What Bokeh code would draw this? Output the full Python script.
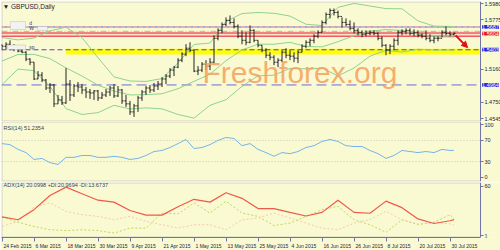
from bokeh.plotting import figure
from bokeh.layouts import column
from bokeh.models import (Range1d, FixedTicker, Label, Arrow, NormalHead, LinearAxis,
                          BoxAnnotation, PrintfTickFormatter)
from bokeh.embed import file_html
from bokeh.resources import INLINE

# ---------------- data ----------------
opens = [1.5460, 1.5447, 1.5472, 1.5410, 1.5434, 1.5385, 1.5372, 1.5286, 1.5248, 1.5038,
         1.5087, 1.5025, 1.4926, 1.4963, 1.4728, 1.4777, 1.4740, 1.4976, 1.4839, 1.4951,
         1.4938, 1.4901, 1.4876, 1.4864, 1.4889, 1.4802, 1.4839, 1.4876, 1.4926, 1.4827,
         1.4901, 1.4765, 1.4728, 1.4628, 1.4703, 1.4802, 1.4876, 1.4926, 1.4901, 1.4951,
         1.4976, 1.5038, 1.5075, 1.5149, 1.5186, 1.5273, 1.5348, 1.5422, 1.5397, 1.5137,
         1.5149, 1.5224, 1.5199, 1.5248, 1.5546, 1.5645, 1.5719, 1.5769, 1.5744, 1.5695,
         1.5571, 1.5521, 1.5496, 1.5645, 1.5521, 1.5459, 1.5397, 1.5335, 1.5310, 1.5248,
         1.5273, 1.5372, 1.5335, 1.5323, 1.5298, 1.5372, 1.5447, 1.5496, 1.5521, 1.5571,
         1.5620, 1.5744, 1.5844, 1.5893, 1.5868, 1.5819, 1.5744, 1.5719, 1.5670, 1.5645,
         1.5620, 1.5596, 1.5608, 1.5620, 1.5608, 1.5546, 1.5459, 1.5397, 1.5447, 1.5521,
         1.5620, 1.5633, 1.5645, 1.5608, 1.5620, 1.5583, 1.5571, 1.5546, 1.5521, 1.5546,
         1.5546, 1.5620, 1.5608, 1.5596]
highs = [1.5472, 1.5496, 1.5521, 1.5472, 1.5447, 1.5434, 1.5385, 1.5298, 1.5248, 1.5137,
         1.5124, 1.5038, 1.4988, 1.4976, 1.4839, 1.4827, 1.5174, 1.5025, 1.4976, 1.5000,
         1.4976, 1.4938, 1.4914, 1.4901, 1.4901, 1.4876, 1.4914, 1.4951, 1.4976, 1.4951,
         1.4914, 1.4839, 1.4765, 1.4728, 1.4827, 1.4901, 1.4951, 1.4963, 1.4988, 1.5013,
         1.5062, 1.5099, 1.5174, 1.5199, 1.5298, 1.5372, 1.5472, 1.5496, 1.5397, 1.5199,
         1.5248, 1.5273, 1.5298, 1.5583, 1.5670, 1.5744, 1.5806, 1.5831, 1.5794, 1.5719,
         1.5645, 1.5620, 1.5707, 1.5658, 1.5521, 1.5459, 1.5422, 1.5372, 1.5335, 1.5298,
         1.5397, 1.5422, 1.5397, 1.5372, 1.5397, 1.5472, 1.5521, 1.5546, 1.5596, 1.5645,
         1.5769, 1.5868, 1.5918, 1.5918, 1.5893, 1.5806, 1.5794, 1.5769, 1.5744, 1.5670,
         1.5645, 1.5645, 1.5645, 1.5645, 1.5620, 1.5571, 1.5472, 1.5472, 1.5546, 1.5645,
         1.5658, 1.5670, 1.5670, 1.5658, 1.5645, 1.5608, 1.5645, 1.5596, 1.5571, 1.5571,
         1.5645, 1.5695, 1.5633, 1.5620]
lows = [1.5397, 1.5410, 1.5397, 1.5385, 1.5372, 1.5360, 1.5261, 1.5211, 1.5025, 1.5038,
        1.5000, 1.4901, 1.4864, 1.4690, 1.4728, 1.4715, 1.4728, 1.4765, 1.4814, 1.4876,
        1.4852, 1.4802, 1.4790, 1.4777, 1.4765, 1.4790, 1.4814, 1.4827, 1.4802, 1.4814,
        1.4728, 1.4690, 1.4591, 1.4566, 1.4628, 1.4765, 1.4839, 1.4864, 1.4876, 1.4901,
        1.4938, 1.4976, 1.5050, 1.5075, 1.5174, 1.5248, 1.5323, 1.5372, 1.5124, 1.5087,
        1.5124, 1.5149, 1.5149, 1.5236, 1.5521, 1.5608, 1.5695, 1.5719, 1.5670, 1.5546,
        1.5472, 1.5459, 1.5484, 1.5496, 1.5434, 1.5372, 1.5298, 1.5273, 1.5211, 1.5186,
        1.5248, 1.5298, 1.5273, 1.5248, 1.5236, 1.5372, 1.5422, 1.5447, 1.5484, 1.5546,
        1.5620, 1.5719, 1.5794, 1.5831, 1.5794, 1.5682, 1.5695, 1.5645, 1.5608, 1.5583,
        1.5558, 1.5571, 1.5583, 1.5583, 1.5521, 1.5434, 1.5335, 1.5348, 1.5397, 1.5459,
        1.5583, 1.5596, 1.5583, 1.5571, 1.5558, 1.5546, 1.5521, 1.5496, 1.5484, 1.5509,
        1.5558, 1.5583, 1.5571, 1.5583]
closes = [1.5447, 1.5472, 1.5410, 1.5434, 1.5385, 1.5372, 1.5286, 1.5248, 1.5038, 1.5087,
          1.5025, 1.4926, 1.4963, 1.4728, 1.4777, 1.4740, 1.4976, 1.4839, 1.4951, 1.4938,
          1.4901, 1.4876, 1.4864, 1.4889, 1.4802, 1.4839, 1.4876, 1.4926, 1.4827, 1.4901,
          1.4765, 1.4728, 1.4628, 1.4703, 1.4802, 1.4876, 1.4926, 1.4901, 1.4951, 1.4976,
          1.5038, 1.5075, 1.5149, 1.5186, 1.5273, 1.5348, 1.5422, 1.5397, 1.5137, 1.5149,
          1.5224, 1.5199, 1.5248, 1.5546, 1.5645, 1.5719, 1.5769, 1.5744, 1.5695, 1.5571,
          1.5521, 1.5496, 1.5645, 1.5521, 1.5459, 1.5397, 1.5335, 1.5310, 1.5248, 1.5273,
          1.5372, 1.5335, 1.5323, 1.5298, 1.5372, 1.5447, 1.5496, 1.5521, 1.5571, 1.5620,
          1.5744, 1.5844, 1.5893, 1.5868, 1.5819, 1.5744, 1.5719, 1.5670, 1.5645, 1.5620,
          1.5596, 1.5608, 1.5620, 1.5608, 1.5546, 1.5459, 1.5397, 1.5447, 1.5521, 1.5620,
          1.5633, 1.5645, 1.5608, 1.5620, 1.5583, 1.5571, 1.5546, 1.5521, 1.5546, 1.5546,
          1.5620, 1.5608, 1.5596, 1.5608]

# Bollinger bands (20,2), sampled every 4 bars
band_idx = [0, 4, 8, 12, 16, 20, 24, 28, 32, 36, 40, 44, 48, 52, 56, 60, 64, 68, 72, 76,
            80, 84, 88, 92, 96, 100, 104, 108, 112, 113]
bb_upper = [1.5556, 1.5526, 1.5549, 1.5639, 1.5684, 1.5554, 1.5303, 1.5065, 1.5013, 1.5008,
            1.5044, 1.5239, 1.5468, 1.5487, 1.5756, 1.5855, 1.5868, 1.5858, 1.5823, 1.5721,
            1.5705, 1.5932, 1.5981, 1.5949, 1.5916, 1.5914, 1.5763, 1.5698, 1.5694, 1.5689]
bb_mid = [1.5262, 1.5344, 1.5345, 1.5292, 1.5177, 1.5075, 1.4961, 1.4888, 1.4839, 1.4843,
          1.4854, 1.4917, 1.5009, 1.5098, 1.5267, 1.5401, 1.5473, 1.5472, 1.5496, 1.5443,
          1.5439, 1.5504, 1.5578, 1.5635, 1.5655, 1.5644, 1.5596, 1.5566, 1.5562, 1.5562]
bb_lower = [1.4968, 1.5162, 1.5142, 1.4945, 1.4669, 1.4596, 1.4618, 1.4710, 1.4664, 1.4678,
            1.4666, 1.4596, 1.4550, 1.4710, 1.4780, 1.4947, 1.5077, 1.5086, 1.5170, 1.5165,
            1.5174, 1.5077, 1.5176, 1.5323, 1.5396, 1.5374, 1.5410, 1.5400, 1.5400, 1.5400]

# RSI(14), sampled every 2 bars
rsi_idx = list(range(0, 113, 2)) + [113]
rsi = [64, 62, 53, 47, 34, 36, 28, 24.5, 38, 38, 41.5, 41.5, 38, 38, 40, 38, 34, 36, 41.5, 49,
       51, 56.6, 64, 71.7, 54.7, 56.6, 62, 70, 75.5, 73.6, 60, 64, 53, 47, 40, 47, 45, 49, 56.6, 60,
       68, 71.7, 68, 60, 58.5, 58.5, 51, 45, 36, 41.5, 51, 49, 47, 49, 47, 53, 51, 51.2]

# ADX(14), sampled every 4 bars
adx = [23.3, 20, 32, 48.9, 58.9, 51, 43.3, 41, 31, 25.5, 25.5, 35.5, 44.4, 41, 52.2, 45.5,
       33.3, 33.3, 28.8, 24.4, 28.8, 43.3, 28.8, 27.7, 42.2, 34.4, 21, 15.5, 18.8, 20.1]
plus_di = [23, 17, 12, 8, 7, 8, 7, 4, 10, 10, 28, 27, 40, 28, 42, 28, 24, 13, 16, 24,
           32, 36, 20, 14, 5, 20, 14, 17, 26, 21.0]
minus_di = [12, 18, 35, 40, 30, 26, 24, 20, 24, 18, 14, 10, 14, 14, 8, 20, 22, 28, 22, 16,
            10, 8, 16, 20, 30, 20, 15, 17, 15, 13.7]

date_ticks = [0, 8, 16, 24, 32, 40, 48, 56, 64, 72, 80, 88, 96, 104, 112]
date_labels = ["24 Feb 2015", "6 Mar 2015", "18 Mar 2015", "30 Mar 2015", "9 Apr 2015",
               "21 Apr 2015", "1 May 2015", "13 May 2015", "25 May 2015", "4 Jun 2015",
               "16 Jun 2015", "26 Jun 2015", "8 Jul 2015", "20 Jul 2015", "30 Jul 2015"]
price_ticks = [1.4545, 1.4750, 1.5160, 1.5775, 1.5980]
rsi_ticks = [0, 30, 70, 100]
adx_ticks = [1, 60]

# horizontal levels
lvl_resist = 1.5687
lvl_green = 1.5633
lvl_red_top, lvl_red_bot = 1.5612, 1.5572
lvl_support = 1.5403
zone_top, zone_bot = 1.5415, 1.5345
lvl_low = 1.4964
price_boxes = [(1.5687, "#2a2ad8"), (1.5604, "#e81818"), (1.5403, "#2a2ad8"), (1.4964, "#2a2ad8")]

# ---------------- styling ----------------
BG = "#fafad2"
FR = "#7073ad"
TXT = "#1c1c40"
FONT = "Liberation Sans"
PX = 4.0                         # pixels per bar
x_start = -0.125
x_range = Range1d(x_start, x_start + 499 / PX)
AXX = x_start + 479 / PX         # where the price scale sits
n = len(closes)
idx = list(range(n))


def panel(height, y_range, top, bottom, ticks, xaxis=False):
    p = figure(width=500, height=height, x_range=x_range, y_range=y_range, title=None,
               output_backend="svg", toolbar_location=None,
               x_axis_location="below" if xaxis else None, y_axis_location=None,
               min_border_left=1, min_border_right=0, min_border_top=top,
               min_border_bottom=bottom)
    p.background_fill_color = BG
    p.border_fill_color = BG
    p.outline_line_color = None
    p.grid.visible = False
    ya = LinearAxis(fixed_location=AXX, ticker=FixedTicker(ticks=ticks))
    ya.axis_line_color = FR
    ya.major_tick_line_color = FR
    ya.major_tick_out = 3
    ya.major_tick_in = 0
    ya.minor_tick_out = 0
    ya.minor_tick_in = 0
    ya.major_label_standoff = 1
    ya.major_label_text_font_size = "5.5px"
    ya.major_label_text_font = FONT
    ya.major_label_text_color = TXT
    p.add_layout(ya, "right")
    span = y_range.end - y_range.start
    h = height - top - bottom
    half = 0.5 * span / h
    p.add_layout(BoxAnnotation(left=x_start + 0.5 / PX, right=AXX, top=y_range.end - half,
                               bottom=y_range.start + half, fill_color=None,
                               line_color=FR, line_width=1, level="overlay"))
    return p, ya


def hline(p, y, **kw):
    p.segment(x0=[x_start], y0=[y], x1=[AXX], y1=[y], **kw)


# ---- main price panel ----
p1, ya1 = panel(121, Range1d(1.4508, 1.6005), 1, 0, price_ticks)
ya1.formatter = PrintfTickFormatter(format="%.4f")

p1.add_layout(BoxAnnotation(left=16, right=AXX, bottom=zone_bot, top=zone_top,
                            fill_color="#ffff00", fill_alpha=1.0, line_color=None,
                            level="underlay"))
p1.add_layout(BoxAnnotation(right=AXX, bottom=lvl_red_bot, top=lvl_red_top,
                            fill_color="#fde2d4", fill_alpha=1.0, line_color=None,
                            level="underlay"))
for loc in (lvl_red_top, lvl_red_bot):
    hline(p1, loc, line_color="#f25c5c", line_width=1.6)
hline(p1, lvl_resist, line_color="#e8607a", line_dash="3 3", line_width=1)
hline(p1, lvl_resist, line_color="#5a5ae6", line_dash="3 3", line_dash_offset=3, line_width=1)
hline(p1, lvl_green, line_color="#8ccf8c", line_dash="6 2 1 2", line_width=1)
hline(p1, lvl_support, line_color="#4a4ab8", line_dash="5 3", line_width=1)
hline(p1, lvl_low, line_color="#6a6ae0", line_dash="10 5", line_width=1)

for band in (bb_upper, bb_mid, bb_lower):
    p1.line(band_idx, band, line_color="#8fd18f", line_width=1)

BAR = "#222222"
p1.segment(x0=idx, y0=lows, x1=idx, y1=highs, line_color=BAR, line_width=1)
p1.segment(x0=[i - 0.4 for i in idx], y0=opens, x1=idx, y1=opens, line_color=BAR, line_width=1)
p1.segment(x0=idx, y0=closes, x1=[i + 0.4 for i in idx], y1=closes, line_color=BAR, line_width=1)

# objects at top-left
for l, r, t, b in ((2.1, 5.9, 1.5755, 1.5655), (8.9, 11.4, 1.5693, 1.5643), (1.4, 5.9, 1.5462, 1.5406)):
    p1.add_layout(BoxAnnotation(left=l, right=r, top=t, bottom=b, fill_color="#f2f2f2",
                                fill_alpha=1.0, line_color="#9a9a9a", line_width=1))
for tx, ty, tt in ((6.8, 1.5735, "d"), (6.8, 1.5672, "W"), (6.8, 1.5434, "sp")):
    p1.add_layout(Label(x=tx, y=ty, text=tt, text_font_size="5px", text_font=FONT,
                        text_color="#3a3a7a", text_baseline="middle"))

p1.add_layout(Arrow(end=NormalHead(size=6, fill_color="#e01010", line_color="#e01010"),
                    x_start=113.4, y_start=1.5583, x_end=116.4, y_end=1.5430,
                    line_color="#e01010", line_width=2))

p1.add_layout(Label(x=50.1, y=1.5119, text="Freshforex.org", text_font=FONT,
                    text_font_size="30px", text_color="#f5a05c", text_alpha=0.85,
                    text_baseline="alphabetic"))
p1.add_layout(Label(x=0.2, y=1.5943, text="\u25bc GBPUSD,Daily", text_font=FONT,
                    text_font_size="6.5px", text_color=TXT, text_baseline="middle"))

for val, col in price_boxes:
    p1.add_layout(Label(x=AXX + 0.4, y=val, text=f"{val:.4f}", text_font=FONT,
                        text_font_size="5.5px", text_color="white",
                        background_fill_color=col, text_baseline="middle"))

# ---- RSI panel ----
p2, ya2 = panel(61, Range1d(-7.55, 105.66), 0, 1, rsi_ticks)
for loc in (70, 30):
    hline(p2, loc, line_color="#c4c4b4", line_dash="1 2", line_width=1)
p2.line(rsi_idx, rsi, line_color="#74b4ea", line_width=1)
p2.add_layout(Label(x=0.4, y=92.5, text="RSI(14) 51.2354", text_font=FONT,
                    text_font_size="5.5px", text_color="#3a3a5a", text_baseline="middle"))

# ---- ADX panel ----
p3, ya3 = panel(69, Range1d(-1.23, 64.45), 0, 10, adx_ticks, xaxis=True)
p3.line(band_idx, plus_di, line_color="#bcd85e", line_width=1, line_dash="2 2")
p3.line(band_idx, minus_di, line_color="#f6c8b0", line_width=1, line_dash="2 2")
p3.line(band_idx, adx, line_color="#f0584a", line_width=1.2)
p3.add_layout(Label(x=0.4, y=61.1, text="ADX(14) 20.0998 +DI:20.9694 -DI:13.6737",
                    text_font=FONT, text_font_size="5.5px", text_color="#3a3a5a",
                    text_baseline="middle"))

# date labels begin at their tick: centre each label half its width to the right
CW = {**{d: 0.556 for d in "0123456789"}, " ": 0.278, "F": 0.611, "e": 0.556, "b": 0.556,
      "M": 0.833, "a": 0.556, "r": 0.333, "A": 0.667, "p": 0.556, "y": 0.5, "J": 0.5,
      "u": 0.556, "n": 0.556, "l": 0.222}
DATE_FS = 5.0
centres = [round(t + (sum(CW.get(c, 0.556) for c in s) * DATE_FS / 2 + 1.5) / PX, 3)
           for t, s in zip(date_ticks, date_labels)]
xa = p3.xaxis[0]
xa.ticker = FixedTicker(ticks=centres, minor_ticks=date_ticks)
xa.major_label_overrides = {c: s for c, s in zip(centres, date_labels)}
xa.bounds = (x_start, AXX)
xa.axis_line_color = FR
xa.major_tick_line_color = None
xa.major_tick_out = 0
xa.major_tick_in = 0
xa.minor_tick_line_color = FR
xa.minor_tick_out = 4
xa.minor_tick_in = 0
xa.major_label_standoff = 1
xa.major_label_text_font_size = f"{DATE_FS}px"
xa.major_label_text_font = FONT
xa.major_label_text_color = TXT

layout = column(p1, p2, p3, spacing=0)
open("out.html", "w").write(file_html(layout, INLINE))
